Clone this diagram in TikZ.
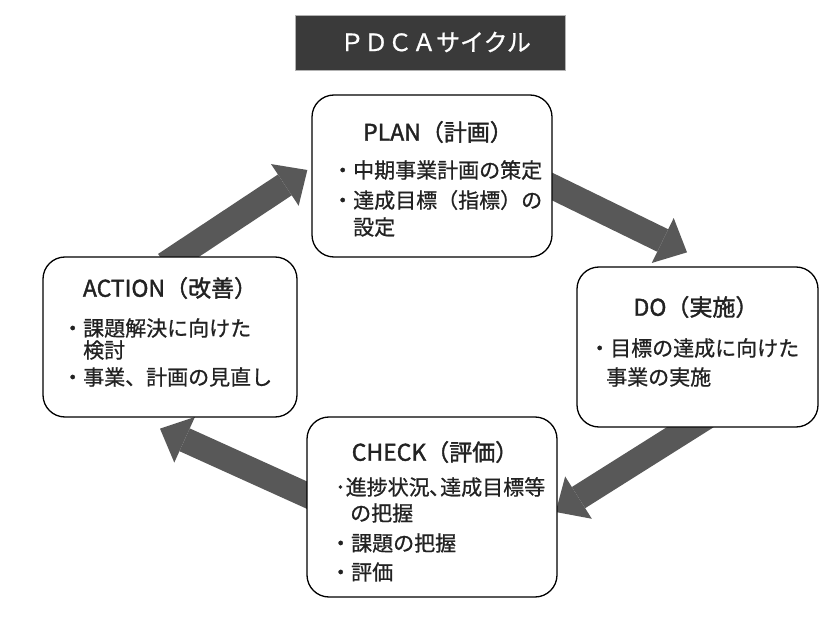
\documentclass[tikz,border=0pt]{standalone}
\usepackage{fontspec}
\setmainfont{Noto Sans CJK JP}[FakeBold=0.8]
\newfontfamily\headfont{Noto Sans CJK JP}[FakeBold=1.6]
\usetikzlibrary{arrows.meta,backgrounds}
\definecolor{arrowgray}{HTML}{585858}
\definecolor{titlebg}{HTML}{3A3A3A}
\definecolor{ink}{HTML}{222222}
\begin{document}
\begin{tikzpicture}[x=1pt,y=-1pt,
  phase/.style={draw=black, line width=1.3pt, rounded corners=22pt, fill=white, inner sep=0pt},
  head/.style={font=\headfont\fontsize{23}{23}\selectfont, inner sep=0pt, text=ink},
  item/.style={font=\fontsize{21}{21}\selectfont, inner sep=0pt, anchor=west, text=ink},
  cyclearrow/.style={draw=arrowgray, line width=25pt, -{Triangle[width=50pt,length=27pt,line width=0pt]}}
]
\useasboundingbox (0,0) rectangle (839,623);

% title
\node[fill=titlebg, draw=gray!60, line width=0.8pt, minimum width=270pt, minimum height=55pt, inner sep=0pt] (title) at (430,42.5) {};
\node[font=\fontsize{24}{24}\selectfont, text=white, inner sep=0pt] (titletext) at (435.5,42) {ＰＤＣＡサイクル};

% boxes
\node[phase, minimum width=240pt, minimum height=162pt] (plan) at (432,176) {};
\node[phase, minimum width=241pt, minimum height=160pt] (do) at (697.5,347) {};
\node[phase, minimum width=250pt, minimum height=180pt] (check) at (432,507) {};
\node[phase, minimum width=254pt, minimum height=160pt] (action) at (170,337) {};

% PLAN
\node[head] (plant) at (438,132) {PLAN（計画）};
\node[item] (plan1) at (332,170) {・中期事業計画の策定};
\node[item] (plan2) at (332,200) {・達成目標（指標）の};
\node[item] (plan3) at (353,227) {設定};

% DO
\node[head] (dot) at (696,307) {DO（実施）};
\node[item] (do1) at (589,348) {・目標の達成に向けた};
\node[item] (do2) at (606,377) {事業の実施};

% CHECK
\node[head] (checkt) at (435,452) {CHECK（評価）};
\node[item] (check1) at (335,487) {･進捗状況､達成目標等};
\node[item] (check2) at (350,513) {の把握};
\node[item] (check3) at (330,543) {・課題の把握};
\node[item] (check4) at (330,572) {・評価};

% ACTION
\node[head] (actiont) at (170,288) {ACTION（改善）};
\node[item] (action1) at (62,328) {・課題解決に向けた};
\node[item] (action2) at (83,350) {検討};
\node[item] (action3) at (62,377) {・事業、計画の見直し};

% arrows
\begin{scope}[on background layer]
\draw[cyclearrow] ([xshift=-5pt,yshift=-8pt]action.north) -- ([xshift=-4pt,yshift=6pt]plan.west);
\draw[cyclearrow] ([xshift=-18pt,yshift=-2pt]plan.east) -- ([xshift=-10.5pt,yshift=14pt]do.north);
\draw[cyclearrow] ([xshift=9.5pt,yshift=11pt]do.south) -- ([xshift=-2pt,yshift=-5pt]check.east);
\draw[cyclearrow] ([xshift=18pt,yshift=4pt]check.west) -- ([xshift=-10pt,yshift=-11pt]action.south);
\end{scope}
\end{tikzpicture}
\end{document}
